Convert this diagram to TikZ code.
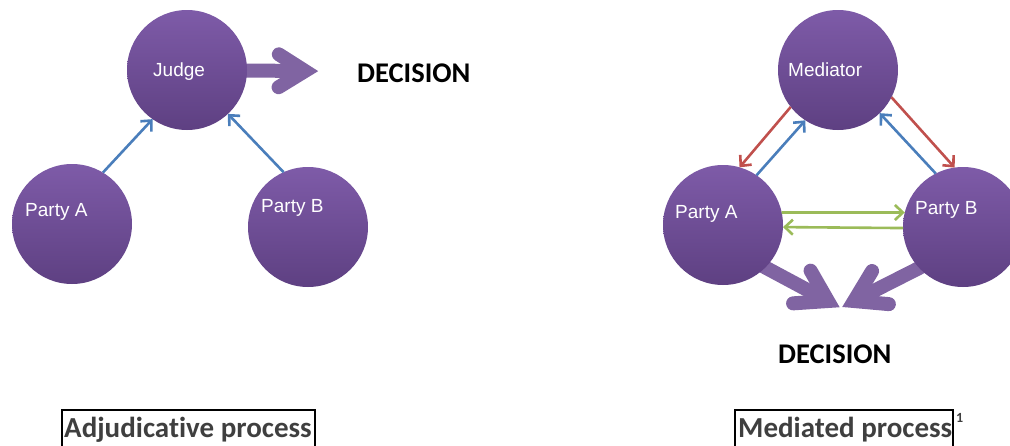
\documentclass[tikz,border=0pt]{standalone}
\usepackage{fontspec}
\setmainfont{Liberation Sans}
\newfontfamily\calfont[Ligatures=CommonOff]{Carlito}
\usetikzlibrary{arrows.meta,calc,backgrounds}
\definecolor{circtop}{HTML}{7E5BA8}
\definecolor{circbot}{HTML}{5E4082}
\definecolor{bigpurple}{HTML}{8064A2}
\definecolor{arrblue}{HTML}{4A7EBB}
\definecolor{arrred}{HTML}{C0504D}
\definecolor{arrgreen}{HTML}{9BBB59}
\definecolor{captext}{HTML}{3F3F3F}
\begin{document}
\begin{tikzpicture}[x=1pt,y=-1pt,
  party/.style={circle,minimum size=120pt,inner sep=0pt,outer sep=0pt,top color=circtop,bottom color=circbot,draw=none},
  ctext/.style={text=white,font=\fontsize{19}{22}\selectfont,inner sep=0pt,anchor=base west},
  smallarrow/.style={line width=2.6pt,-{Straight Barb[length=8pt,width=15pt]}},
  bigshaft/.style={line width=14pt,draw=bigpurple,line cap=butt},
  bighead/.style={line width=14pt,draw=bigpurple,line cap=round,line join=miter},
  decision/.style={font=\calfont\bfseries\fontsize{28.5}{33}\selectfont,inner sep=0pt,anchor=base west},
  caption/.style={font=\calfont\bfseries\fontsize{29}{33}\selectfont,text=captext,inner sep=0pt,anchor=base west},
  capbox/.style={draw=black,line width=1.5pt}
]
\useasboundingbox (0,0) rectangle (1010,445);

% ---------- left: adjudicative ----------
\node[party] (judge) at (187,70) {};
\node[party] (pa1) at (72,224) {};
\node[party] (pb1) at (308,227) {};
\node[ctext] (judgeT) at (153,76) {Judge};
\node[ctext] (paT1) at (25,216) {Party A};
\node[ctext] (pbT1) at (261,212) {Party B};
\node[decision] (dec1) at (357,82) {DECISION};

\coordinate (v1) at (305,71);
\begin{scope}[on background layer]
\draw[bigshaft] (judge.center) -- (v1);
\draw[bighead] ($(v1)!31pt!32:(judge.center)$) -- (v1) -- ($(v1)!31pt!-32:(judge.center)$);
\end{scope}

\draw[smallarrow,arrblue] (pa1.59) -- (judge.235);
\draw[smallarrow,arrblue] (pb1.114) -- (judge.-47);

% ---------- right: mediated ----------
\node[party] (med) at (838,70) {};
\node[party] (pa2) at (723,225) {};
\node[party] (pb2) at (963,227) {};
\node[ctext] (medT) at (788,76) {Mediator};
\node[ctext] (paT2) at (675,218) {Party A};
\node[ctext] (pbT2) at (915,214) {Party B};
\node[decision] (dec2) at (778,363) {DECISION};

\coordinate (s2) at (757,263);
\coordinate (v2) at (828,301);
\coordinate (s3) at (925,265);
\coordinate (v3) at (854,301);
\begin{scope}[on background layer]
\draw[bigshaft] (s2) -- (v2);
\draw[bighead] ($(v2)!35pt!32:(s2)$) -- (v2) -- ($(v2)!35pt!-32:(s2)$);
\draw[bigshaft] (s3) -- (v3);
\draw[bighead] ($(v3)!35pt!32:(s3)$) -- (v3) -- ($(v3)!35pt!-32:(s3)$);
\end{scope}

\draw[smallarrow,arrred] (med.218) -- (pa2.74);
\draw[smallarrow,arrblue] (pa2.56) -- (med.237);
\draw[smallarrow,arrblue] (pb2.117) -- (med.-46);
\draw[smallarrow,arrred] (med.-27) -- (pb2.98);
\draw[smallarrow,arrgreen] (pa2.12) -- (pb2.166);
\draw[smallarrow,arrgreen] (pb2.181) -- (pa2.-2);

% ---------- captions ----------
\node[caption] (capA) at (64,437) {Adjudicative process};
\node[caption] (capM) at (738,437) {Mediated process};
\node[font=\calfont\bfseries\fontsize{14}{16}\selectfont,text=captext,inner sep=0pt,anchor=base west] (sup) at (956,422) {1};
\draw[capbox] (62,450) -- (62,410) -- (315,410) -- (315,450);
\draw[capbox] (735,450) -- (735,410) -- (953,410) -- (953,450);
\end{tikzpicture}
\end{document}
